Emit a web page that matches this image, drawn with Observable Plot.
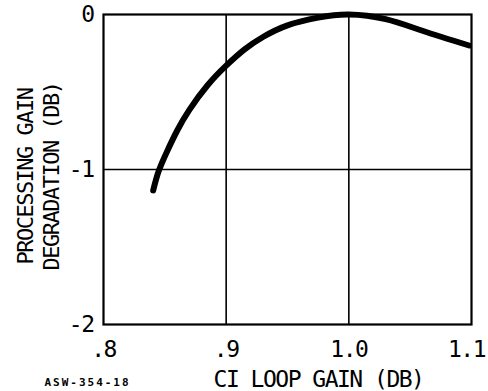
<!DOCTYPE html>
<html>
<head>
<meta charset="utf-8">
<script src="https://cdn.jsdelivr.net/npm/d3@7"></script>
<script src="https://cdn.jsdelivr.net/npm/@observablehq/plot@0.6"></script>
<style>
  html, body { margin: 0; padding: 0; background: #fff; overflow: hidden; }
</style>
</head>
<body>
<div id="chart"></div>
<script>
// CI loop gain (x) and processing gain degradation in dB (y)
const loopGain    = [0.8405, 0.845, 0.852, 0.860, 0.870, 0.885, 0.900, 0.915, 0.930, 0.950, 0.975, 1.000, 1.030, 1.060, 1.098];
const degradation = [-1.135, -1.010, -0.880, -0.750, -0.615, -0.455, -0.330, -0.225, -0.145, -0.070, -0.020, 0.000, -0.030, -0.105, -0.200];

const xTicks = [0.8, 0.9, 1.0, 1.1];
const xTickLabels = [".8", ".9", "1.0", "1.1"];
const yTicks = [0, -1, -2];
const yTickLabels = ["0", "-1", "-2"];
const xGrid = [0.9, 1.0];
const yGrid = [-1];

const xTitle = "CI LOOP GAIN (DB)";
const yTitle = "PROCESSING GAIN\nDEGRADATION (DB)";
const figureId = "ASW-354-18";

const rows = loopGain.map((g, i) => ({gain: g, deg: degradation[i]}));

const chart = Plot.plot({
  width: 488,
  height: 391,
  marginLeft: 103,
  marginRight: 17,
  marginTop: 14,
  marginBottom: 67,
  style: {fontFamily: "DejaVu Sans Mono", fontSize: "23px", color: "black", background: "white", letterSpacing: "-1.5px"},
  x: {domain: [0.8, 1.1], ticks: xTicks, tickFormat: d => xTickLabels[xTicks.findIndex(t => Math.abs(t - d) < 1e-9)], tickSize: 0, tickPadding: 16, label: null},
  y: {domain: [-2, 0], ticks: yTicks, tickFormat: d => yTickLabels[yTicks.findIndex(t => Math.abs(t - d) < 1e-9)], tickSize: 0, tickPadding: 10, label: null},
  marks: [
    Plot.ruleX(xGrid, {stroke: "black", strokeWidth: 1.6}),
    Plot.ruleY(yGrid, {stroke: "black", strokeWidth: 1.6}),
    Plot.frame({stroke: "black", strokeWidth: 2.2}),
    Plot.line(rows, {x: "gain", y: "deg", curve: "natural", stroke: "black", strokeWidth: 6, strokeLinecap: "round"}),
    Plot.text([xTitle], {frameAnchor: "bottom", text: d => d, textAnchor: "middle", lineAnchor: "middle", dx: 31, dy: 55, fontSize: 23, fill: "black"}),
    Plot.text([yTitle], {frameAnchor: "left", text: d => d, textAnchor: "middle", lineAnchor: "middle", rotate: -90, dx: -66, dy: 7, fontSize: 22, lineHeight: 1.2, fill: "black"}),
    Plot.text([figureId], {frameAnchor: "bottom-left", text: d => d, textAnchor: "middle", lineAnchor: "middle", dx: -16, dy: 58, fontSize: 11, fontWeight: "bold", fill: "black", className: "figid"})
  ]
});
d3.select(chart).selectAll(".figid text").style("letter-spacing", "2px");
// keep the last x tick label inside the picture, as in the reference
d3.select(chart).selectAll("text").filter(function() { return this.textContent === "1.1"; }).attr("dx", -5);
document.getElementById("chart").appendChild(chart);
</script>
</body>
</html>
